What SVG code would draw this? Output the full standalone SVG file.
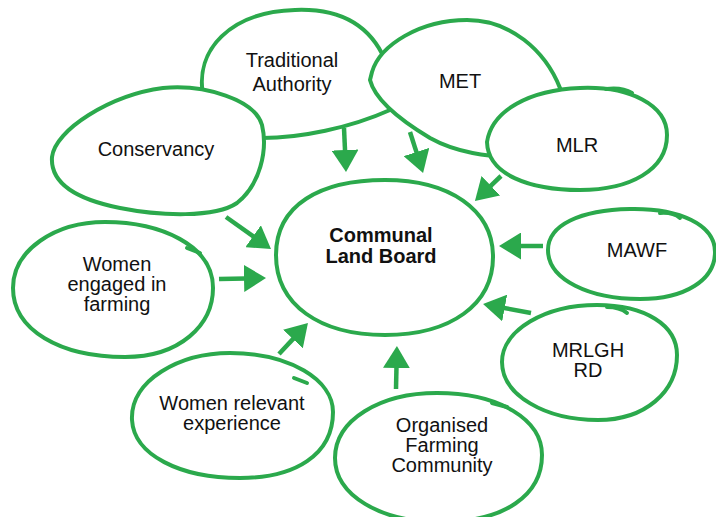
<svg xmlns="http://www.w3.org/2000/svg" width="716" height="517" viewBox="0 0 716 517">
<style>
.blob{fill:#fff;stroke:#2ba94c;stroke-width:4;stroke-linejoin:round}
.tail{fill:none;stroke:#2ba94c;stroke-width:4;stroke-linecap:round}
.arr{fill:none;stroke:#2ba94c;stroke-width:4.5;marker-end:url(#head)}
.t{font-family:"Liberation Sans",Arial,sans-serif;font-size:20px;fill:#111;text-anchor:middle}
.b{font-weight:bold}
</style>
<defs>
<marker id="head" viewBox="0 0 22 27" refX="2" refY="13.5" markerWidth="22" markerHeight="27" markerUnits="userSpaceOnUse" orient="auto">
<path d="M0,0 L22,13.5 L0,27 Z" fill="#2ba94c"/>
</marker>
</defs>
<rect width="716" height="517" fill="#fff"/>
<g id="traditional-authority">
<path class="blob" d="M 203,95 C 195,50 230,12 295,10 C 345,8 372,30 385,60 C 392,80 394,100 390,110 C 350,128 300,138 262,138 C 225,138 206,118 203,95 Z"/>
<text class="t" x="292" y="67">Traditional</text>
<text class="t" x="292" y="91">Authority</text>
</g>
<g id="conservancy">
<path class="blob" d="M 52,157 C 55,130 110,95 163,88 C 205,84 255,100 262,125 C 268,150 260,185 237,203 C 215,218 160,216 120,208 C 80,200 50,185 52,157 Z"/>
<text class="t" x="156" y="156">Conservancy</text>
</g>
<g id="met">
<path class="blob" d="M 372,72 C 380,45 420,20 467,20 C 510,20 545,50 560,88 C 570,115 560,150 515,156 C 490,158 455,152 430,138 C 400,120 375,100 370,80 Z"/>
<text class="t" x="460" y="88">MET</text>
</g>
<g id="mlr">
<path class="blob" d="M 487,142 C 492,110 530,90 580,88 C 630,86 667,105 667,135 C 667,170 630,190 580,190 C 530,190 488,175 487,142 Z"/>
<path class="tail" d="M 606,89 Q 622,87 632,93"/>
<text class="t" x="577" y="152">MLR</text>
</g>
<g id="communal-land-board">
<path class="blob" d="M 276,255 C 276,205 320,180 385,180 C 450,180 492,210 493,255 C 494,305 450,335 385,335 C 320,335 276,305 276,255 Z"/>
<text class="t b" x="381" y="242">Communal</text>
<text class="t b" x="381" y="263">Land Board</text>
</g>
<g id="mawf">
<path class="blob" d="M 548,250 C 548,225 580,210 630,209 C 680,208 715,225 715,252 C 715,280 685,299 640,299 C 590,299 548,280 548,250 Z"/>
<path class="tail" d="M 660,213 Q 673,212 680,218"/>
<text class="t" x="637" y="257">MAWF</text>
</g>
<g id="mrlghrd">
<path class="blob" d="M 502,362 C 502,330 545,305 597,305 C 645,305 677,325 677,355 C 677,392 645,420 598,420 C 545,420 502,395 502,362 Z"/>
<path class="tail" d="M 607,307 Q 620,307 627,313"/>
<text class="t" x="588" y="357">MRLGH</text>
<text class="t" x="588" y="377">RD</text>
</g>
<g id="women-engaged-in-farming">
<path class="blob" d="M 13,288 C 13,250 55,222 105,222 C 160,222 213,245 213,288 C 213,325 180,357 125,357 C 60,357 13,330 13,288 Z"/>
<path class="tail" d="M 187,248 L 200,253"/>
<text class="t" x="117" y="271">Women</text>
<text class="t" x="117" y="291">engaged in</text>
<text class="t" x="117" y="311">farming</text>
</g>
<g id="women-relevant-experience">
<path class="blob" d="M 132,420 C 130,380 180,353 230,353 C 290,353 333,380 333,412 C 333,455 295,478 240,478 C 180,478 134,455 132,420 Z"/>
<path class="tail" d="M 294,378 L 307,383"/>
<text class="t" x="232" y="410">Women relevant</text>
<text class="t" x="232" y="430">experience</text>
</g>
<g id="organised-farming-community">
<path class="blob" d="M 335,458 C 335,420 380,393 437,393 C 500,393 542,420 542,455 C 542,495 505,522 440,522 C 380,522 335,495 335,458 Z"/>
<path class="tail" d="M 492,403 L 507,407"/>
<text class="t" x="442" y="432">Organised</text>
<text class="t" x="442" y="452">Farming</text>
<text class="t" x="442" y="472">Community</text>
</g>
<g id="connectors">
<path class="arr" d="M 344,128 L 345.1,152"/>
<path class="arr" d="M 410,132 L 417,153.9"/>
<path class="arr" d="M 501,176 L 489.4,187.1"/>
<path class="arr" d="M 226,217 L 254.7,237.4"/>
<path class="arr" d="M 219,279 L 246,278.4"/>
<path class="arr" d="M 543,246 L 519,246"/>
<path class="arr" d="M 531,313 L 502.7,307.7"/>
<path class="arr" d="M 279,354 L 294.3,337.6"/>
<path class="arr" d="M 396,389 L 396.5,366"/>
</g>
</svg>
